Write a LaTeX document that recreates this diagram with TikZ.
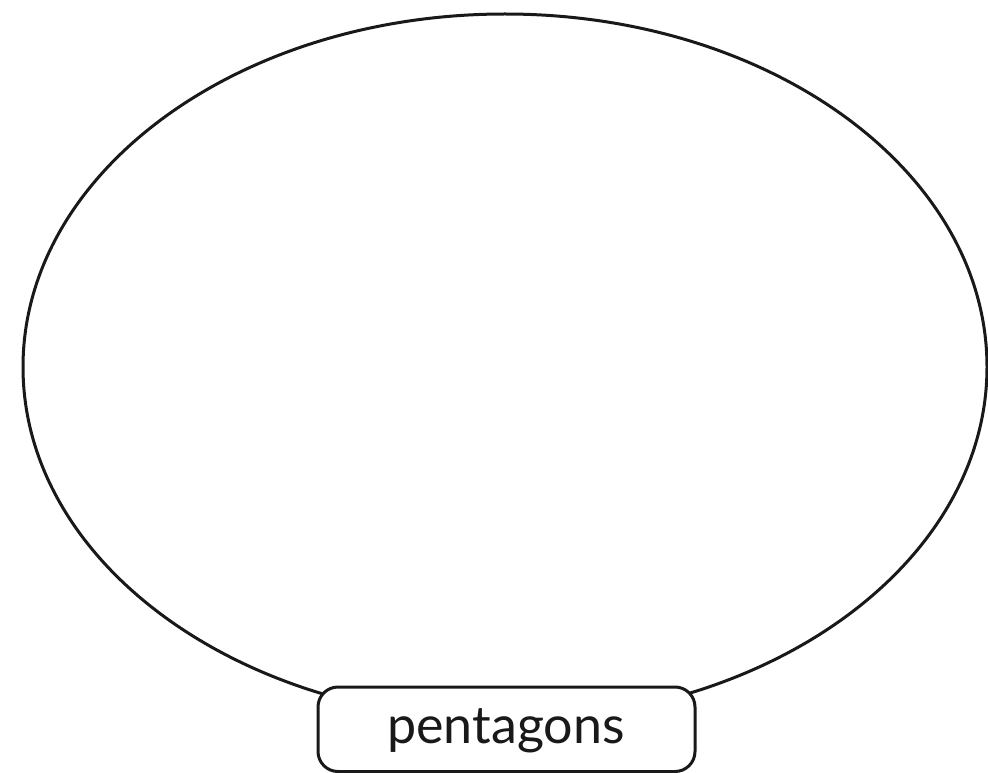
\documentclass[tikz,border=0pt]{standalone}
\usepackage{fontspec}
\setmainfont{Lato}
\usetikzlibrary{shapes.geometric}
\begin{document}
\begin{tikzpicture}[x=1pt,y=-1pt,
  outline/.style={draw=black!90, line width=3pt},
  labelbox/.style={outline, fill=white, rounded corners=20pt}]
\useasboundingbox (0,0) rectangle (988,773);
\node[outline, ellipse, minimum width=964pt, minimum height=706pt, inner sep=0pt] (set) at (505,367) {};
\draw[labelbox] (318,687) rectangle (695,771.5);
\node[inner sep=0pt, text=black!90] (lbl) at (506,731) {\fontsize{52}{62}\selectfont pentagons};
\end{tikzpicture}
\end{document}
